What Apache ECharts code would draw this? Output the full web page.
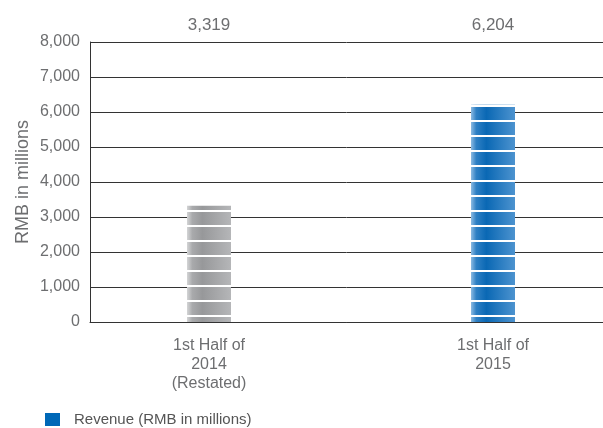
<!DOCTYPE html>
<html><head><meta charset="utf-8">
<script src="https://cdn.jsdelivr.net/npm/echarts@6/dist/echarts.min.js"></script>
<style>html,body{margin:0;padding:0;background:#fff}#c{width:603px;height:428px}</style>
</head><body><div id="c"></div>
<script>
const categories = ['1st Half of\n2014\n(Restated)', '1st Half of\n2015'];
const revenue = [3319, 6204];
const yTicks = [0, 1000, 2000, 3000, 4000, 5000, 6000, 7000, 8000];
const seriesName = 'Revenue (RMB in millions)';
const yName = 'RMB in millions';

const fontFamily = '"Liberation Sans", Arial, sans-serif';
const textColor = '#6d6e70';
const lineColor = '#333';

function grad(c0, c1, c2, c3) {
  return new echarts.graphic.LinearGradient(0, 0, 1, 0, [
    {offset: 0, color: c0}, {offset: 0.12, color: c1}, {offset: 0.35, color: c2}, {offset: 1, color: c3}
  ]);
}
const barColors = [
  grad('#d4d5d6', '#a9aaac', '#97989a', '#b5b6b8'),
  grad('#8dbbe2', '#2f80c4', '#0a68b4', '#4d93cf')
];

const fmt = v => v.toLocaleString('en-US');

const chart = echarts.init(document.getElementById('c'), null, {renderer: 'canvas'});
chart.setOption({
  animation: false,
  backgroundColor: '#fff',
  grid: [
    {left: 90, right: 0, top: 42, bottom: 106},
    {left: 209, right: 110, top: 42, bottom: 106}
  ],
  xAxis: [
    {gridIndex: 0, type: 'category', data: categories, axisLine: {show: true, lineStyle: {color: lineColor, width: 1}}, axisTick: {show: false}, axisLabel: {show: false}},
    {gridIndex: 1, type: 'category', boundaryGap: false, data: categories, axisLine: {show: false}, axisTick: {show: false},
      axisLabel: {color: textColor, fontSize: 16, fontFamily, lineHeight: 19, margin: 14}},
    {gridIndex: 1, type: 'category', boundaryGap: false, position: 'top', data: revenue.map(fmt), axisLine: {show: false}, axisTick: {show: false},
      axisLabel: {color: textColor, fontSize: 17, fontFamily, margin: 8}}
  ],
  yAxis: [
    {gridIndex: 0, type: 'value', min: yTicks[0], max: yTicks[yTicks.length - 1], interval: 1000,
      axisLine: {show: true, lineStyle: {color: lineColor, width: 1}}, axisTick: {show: false},
      splitLine: {show: true, lineStyle: {color: lineColor, width: 1}},
      axisLabel: {color: textColor, fontSize: 16, fontFamily, margin: 10, formatter: v => fmt(v)},
      name: yName, nameLocation: 'middle', nameGap: 58, nameMoveOverlap: false,
      nameTextStyle: {color: textColor, fontSize: 18, fontFamily}},
    {gridIndex: 1, type: 'value', min: yTicks[0], max: yTicks[yTicks.length - 1], interval: 1000, show: false, splitLine: {show: false}}
  ],
  legend: {
    left: 40, top: 407, itemWidth: 15, itemHeight: 13, itemGap: 10,
    icon: 'rect',
    textStyle: {color: '#555', fontSize: 15, fontFamily, padding: [0, 0, 0, 9]},
    data: [{name: seriesName, itemStyle: {color: '#0068b7', decal: 'none'}}]
  },
  series: [{
    name: seriesName, type: 'bar', xAxisIndex: 1, yAxisIndex: 1, barWidth: 44,
    itemStyle: {color: '#0068b7'},
    data: revenue.map((v, i) => ({value: v, itemStyle: {color: barColors[i],
      decal: {symbol: 'rect', color: '#ffffff', dashArrayX: [1, 0], dashArrayY: [2, 13], symbolSize: 1, rotation: 0}}}))
  }]
});
</script></body></html>
